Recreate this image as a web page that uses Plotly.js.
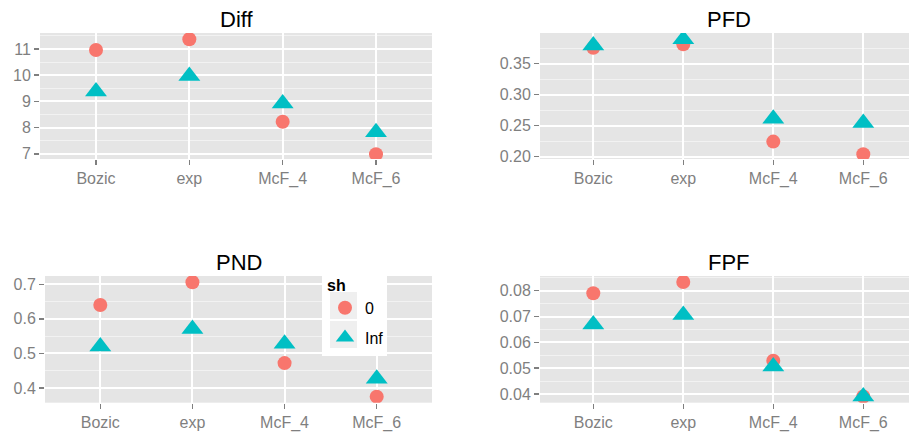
<!DOCTYPE html>
<html>
<head>
<meta charset="utf-8">
<script src="https://cdn.plot.ly/plotly-3.0.1.min.js"></script>
<style>html,body{margin:0;padding:0;background:#fff;}#chart{width:909px;height:435px;}</style>
</head>
<body>
<div id="chart"></div>
<script>
// ---- data ----
const categories = ['Bozic', 'exp', 'McF_4', 'McF_6'];
const shLevels = ['0', 'Inf'];
const panelTitles = ['Diff', 'PFD', 'PND', 'FPF'];
const diff0   = [10.96, 11.37, 8.22, 6.98];
const diffInf = [9.38, 9.97, 8.92, 7.82];
const pfd0    = [0.3754, 0.381, 0.2243, 0.204];
const pfdInf  = [0.379, 0.389, 0.261, 0.2544];
const pnd0    = [0.640, 0.706, 0.472, 0.375];
const pndInf  = [0.520, 0.571, 0.528, 0.427];
const fpf0    = [0.0790, 0.0834, 0.0529, 0.0390];
const fpfInf  = [0.0669, 0.0706, 0.0506, 0.0390];

const W = 909, H = 435;
const FONT = 'Liberation Sans, Arial, sans-serif';
const colors = ['#F8766D', '#00BFC4'];
const symbols = ['circle', 'triangle-up'];
const msize = [14, 19];

const seriesByPanel = [[diff0, diffInf], [pfd0, pfdInf], [pnd0, pndInf], [fpf0, fpfInf]];
const axisIds = [['x', 'y'], ['x2', 'y2'], ['x3', 'y3'], ['x4', 'y4']];

const traces = [];
seriesByPanel.forEach((pair, p) => {
  pair.forEach((vals, s) => {
    traces.push({
      type: 'scatter', mode: 'markers',
      x: categories, y: vals,
      xaxis: axisIds[p][0], yaxis: axisIds[p][1],
      name: shLevels[s], legendgroup: 'g' + s,
      showlegend: p === 0,
      marker: {color: colors[s], symbol: symbols[s], size: msize[s], line: {width: 0}},
      hoverinfo: 'skip'
    });
  });
});

function px2x(px) { return px / W; }
function py2y(py) { return 1 - py / H; }

function xaxis(d0, d1, r0, r1, anchor) {
  return {
    type: 'category', domain: [px2x(d0), Math.min(1, px2x(d1))], range: [r0, r1],
    anchor: anchor, showgrid: true, gridcolor: '#FFFFFF', gridwidth: 2,
    zeroline: false, showline: false,
    ticks: 'outside', ticklen: 5, tickwidth: 1.5, tickcolor: '#7F7F7F',
    tickfont: {family: FONT, size: 16, color: '#7F7F7F'}, fixedrange: true
  };
}
function yaxis(d0, d1, r0, r1, dt, fmt, anchor) {
  return {
    domain: [py2y(d1), py2y(d0)], range: [r0, r1], anchor: anchor,
    tick0: 0, dtick: dt, tickformat: fmt,
    showgrid: true, gridcolor: '#FFFFFF', gridwidth: 2,
    minor: {dtick: dt / 2, tick0: 0, showgrid: true, gridcolor: '#F2F2F2', gridwidth: 1, ticklen: 0},
    zeroline: false, showline: false,
    ticks: 'outside', ticklen: 5, tickwidth: 1.5, tickcolor: '#7F7F7F',
    tickfont: {family: FONT, size: 16, color: '#7F7F7F'}, fixedrange: true
  };
}

const layout = {
  width: W, height: H,
  margin: {l: 0, r: 0, t: 0, b: 0, pad: 0},
  paper_bgcolor: '#FFFFFF', plot_bgcolor: '#E5E5E5',
  font: {family: FONT, color: '#000'},
  xaxis:  xaxis(40, 432, -0.6, 3.6, 'y'),
  yaxis:  yaxis(33, 159, 6.80, 11.61, 1, 'd', 'x'),
  xaxis2: xaxis(540, 917, -0.592, 3.508, 'y2'),
  yaxis2: yaxis(33, 159, 0.1963, 0.3992, 0.05, '.2f', 'x2'),
  xaxis3: xaxis(45, 432, -0.6, 3.6, 'y3'),
  yaxis3: yaxis(276, 402.7, 0.3575, 0.724, 0.1, '.1f', 'x3'),
  xaxis4: xaxis(540, 917, -0.592, 3.508, 'y4'),
  yaxis4: yaxis(276, 402.7, 0.0366, 0.0857, 0.01, '.2f', 'x4'),
  showlegend: true,
  legend: {
    x: px2x(325), y: py2y(270), xanchor: 'left', yanchor: 'top',
    bgcolor: 'rgba(0,0,0,0)', borderwidth: 0,
    title: {text: '<b>sh</b>', font: {family: FONT, size: 16, color: '#000'}},
    font: {family: FONT, size: 16, color: '#000'},
    tracegroupgap: 6, itemsizing: 'trace'
  },
  shapes: [
    {type: 'rect', xref: 'paper', yref: 'paper', x0: px2x(322), x1: px2x(387), y0: py2y(356), y1: py2y(270),
     fillcolor: '#FFFFFF', line: {width: 0}, layer: 'above'},
    {type: 'rect', xref: 'paper', yref: 'paper', x0: px2x(330), x1: px2x(357), y0: py2y(319), y1: py2y(292),
     fillcolor: '#EFEFEF', line: {width: 0}, layer: 'above'},
    {type: 'rect', xref: 'paper', yref: 'paper', x0: px2x(330), x1: px2x(357), y0: py2y(348), y1: py2y(321),
     fillcolor: '#EFEFEF', line: {width: 0}, layer: 'above'}
  ],
  annotations: [
    {text: panelTitles[0], x: px2x(236), y: py2y(20)},
    {text: panelTitles[1], x: px2x(728.5), y: py2y(20)},
    {text: panelTitles[2], x: px2x(238.5), y: py2y(262)},
    {text: panelTitles[3], x: px2x(728.5), y: py2y(262)}
  ].map(a => Object.assign(a, {xref: 'paper', yref: 'paper', xanchor: 'center', yanchor: 'middle',
    showarrow: false, font: {family: FONT, size: 22, color: '#000'}}))
};

Plotly.newPlot('chart', traces, layout, {displayModeBar: false, staticPlot: true});
</script>
</body>
</html>
